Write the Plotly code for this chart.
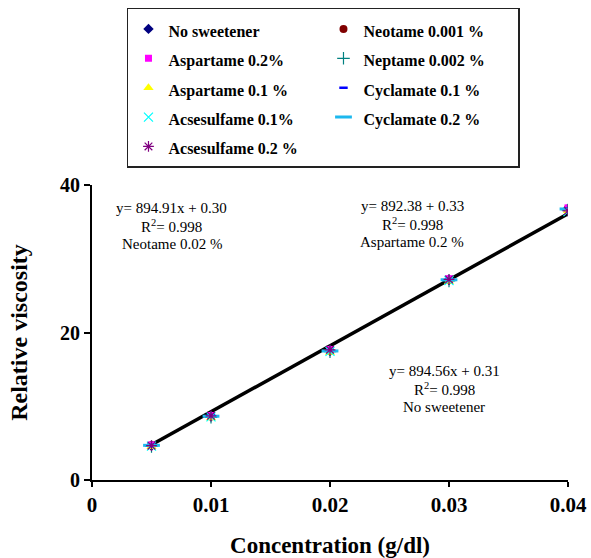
import plotly.graph_objects as go

# ---- data ----
concentration = [0.005, 0.01, 0.02, 0.03, 0.04]

series_names = [
    "No sweetener", "Neotame 0.001 %",
    "Aspartame 0.2%", "Neptame 0.002 %",
    "Aspartame 0.1 %", "Cyclamate 0.1 %",
    "Acsesulfame 0.1%", "Cyclamate 0.2 %",
    "Acsesulfame 0.2 %",
]
no_sweetener   = [4.65, 8.60, 17.50, 27.10, 36.70]
neotame_0001   = [4.70, 8.70, 17.60, 27.20, 36.80]
aspartame_02   = [4.75, 8.75, 17.70, 27.30, 36.90]
neptame_0002   = [4.55, 8.50, 17.40, 27.00, 36.60]
aspartame_01   = [4.50, 8.40, 17.30, 26.90, 36.50]
cyclamate_01   = [4.80, 8.80, 17.55, 27.25, 36.85]
acsesulfame_01 = [4.60, 8.55, 17.45, 27.05, 36.40]
cyclamate_02   = [4.70, 8.65, 17.50, 27.15, 36.75]
acsesulfame_02 = [4.65, 8.70, 17.65, 27.20, 36.50]
series_values = [no_sweetener, neotame_0001, aspartame_02, neptame_0002,
                 aspartame_01, cyclamate_01, acsesulfame_01, cyclamate_02,
                 acsesulfame_02]

# trendline (No sweetener fit)
slope, intercept = 894.56, 0.31

x_ticks = [0, 0.01, 0.02, 0.03, 0.04]
x_tick_labels = ["0", "0.01", "0.02", "0.03", "0.04"]
y_ticks = [0, 20, 40]
y_tick_labels = ["0", "20", "40"]

equations = [
    (0.00672, 36.9, ["y= 894.91x + 0.30", "R<sup>2</sup>= 0.998", "Neotame 0.02 %"]),
    (0.0269, 37.15, ["y= 892.38 + 0.33", "R<sup>2</sup>= 0.998", "Aspartame 0.2 %"]),
    (0.02958, 14.75, ["y= 894.56x + 0.31", "R<sup>2</sup>= 0.998", "No sweetener"]),
]

# ---- styles ----
styles = [
    dict(symbol="diamond", color="#000080", size=8),
    dict(symbol="circle", color="#800000", size=8),
    dict(symbol="square", color="#FF00FF", size=7),
    dict(symbol="cross-thin", color="#008080", size=9, line=dict(width=1.2, color="#008080")),
    dict(symbol="triangle-up", color="#FFFF00", size=9),
    dict(symbol="line-ew", color="#0000FF", size=6, line=dict(width=2.5, color="#0000FF")),
    dict(symbol="x-thin", color="#00FFFF", size=9, line=dict(width=1.2, color="#00FFFF")),
    dict(symbol="line-ew", color="#1CB8EE", size=12, line=dict(width=3, color="#1CB8EE")),
    dict(symbol="asterisk", color="#800080", size=9, line=dict(width=1.2, color="#800080")),
]

FONT = "Liberation Serif, Times New Roman, serif"

fig = go.Figure()

fig.add_trace(go.Scatter(
    x=[concentration[0], concentration[-1]],
    y=[slope * concentration[0] + intercept, slope * concentration[-1] + intercept],
    mode="lines", line=dict(color="black", width=3.5),
    showlegend=False, hoverinfo="skip",
))

for name, vals, st in zip(series_names, series_values, styles):
    marker = dict(symbol=st["symbol"], color=st["color"], size=st["size"])
    if "line" in st:
        marker["line"] = st["line"]
    else:
        marker["line"] = dict(width=0)
    fig.add_trace(go.Scatter(
        x=concentration, y=vals, mode="markers", marker=marker,
        name='<span style="font-size:16px">' + name + '</span>',
    ))

annotations = []
for ax_, ay_, lines in equations:
    for i, t in enumerate(lines):
        annotations.append(dict(
            x=ax_, y=ay_, xref="x", yref="y", text=t, showarrow=False,
            xanchor="center", yanchor="middle", yshift=-i * 18,
            font=dict(family=FONT, size=15, color="black"),
        ))

fig.update_layout(
    width=591, height=558,
    margin=dict(l=92, r=23, t=185, b=78, autoexpand=False),
    paper_bgcolor="white", plot_bgcolor="white",
    font=dict(family=FONT, color="black"),
    annotations=annotations,
    legend=dict(
        orientation="h", x=0.0735, xanchor="left", y=1.601, yanchor="top",
        entrywidth=150, entrywidthmode="pixels",
        bordercolor="#222222", borderwidth=1.5, bgcolor="white",
        font=dict(family=FONT, size=20.3, color="black", weight="bold"),
        itemclick=False,
    ),
    xaxis=dict(
        range=[0, 0.04], tickvals=x_ticks, ticktext=x_tick_labels,
        showgrid=False, zeroline=False, showline=True, linecolor="black", linewidth=2,
        ticks="outside", ticklen=5, tickwidth=1.5, tickcolor="black",
        tickfont=dict(family=FONT, size=21, color="black", weight="bold"),
        title=dict(text="Concentration (g/dl)", standoff=26,
                   font=dict(family=FONT, size=23, color="black", weight="bold")),
    ),
    yaxis=dict(
        range=[0, 40], tickvals=y_ticks, ticktext=y_tick_labels,
        showgrid=False, zeroline=False, showline=True, linecolor="black", linewidth=2,
        ticks="outside", ticklen=6, tickwidth=1.5, tickcolor="black",
        tickfont=dict(family=FONT, size=20, color="black", weight="bold"),
        title=dict(text="Relative viscosity", standoff=26,
                   font=dict(family=FONT, size=24, color="black", weight="bold")),
    ),
)

fig.write_html("out.html", config={"displayModeBar": False},
               post_script="document.body.style.margin='0';")
